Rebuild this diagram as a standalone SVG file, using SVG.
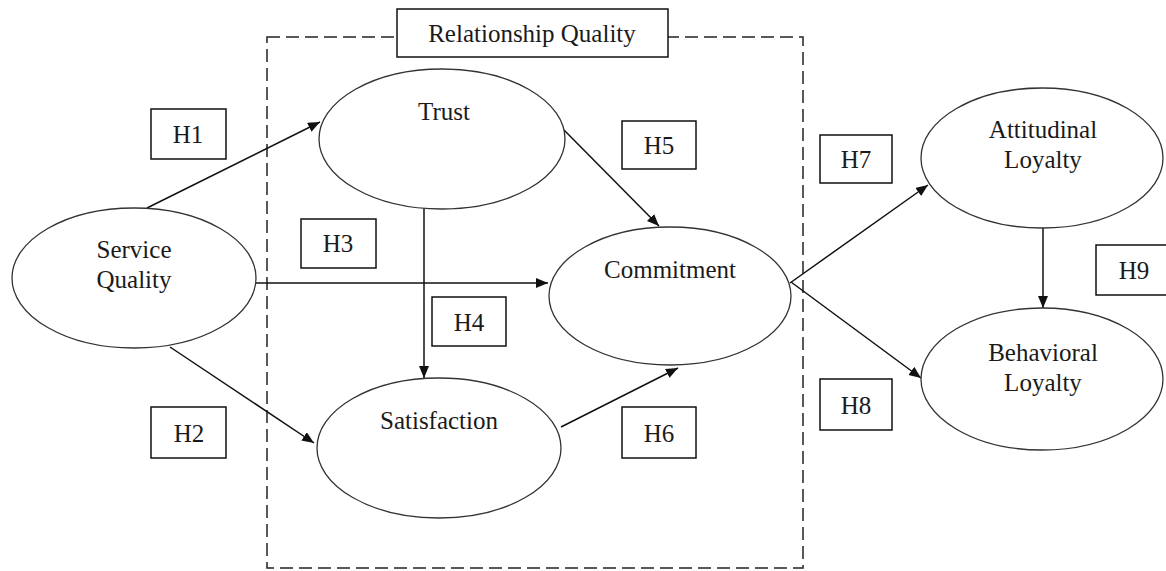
<svg xmlns="http://www.w3.org/2000/svg" width="1166" height="571" viewBox="0 0 1166 571">
<style>
.node{fill:#fff;stroke:#333;stroke-width:1.3}
.t{font-family:"Liberation Serif","Times New Roman",serif;font-size:25px;fill:#1a1a1a;text-anchor:middle}
.box{fill:#fff;stroke:#111;stroke-width:1.5}
.edge{stroke:#111;stroke-width:1.5;fill:none;marker-end:url(#ah)}
.dash{fill:none;stroke:#222;stroke-width:1.5;stroke-dasharray:13 6}
</style>
<defs>
<marker id="ah" markerUnits="userSpaceOnUse" markerWidth="13" markerHeight="11" refX="12" refY="5" orient="auto">
<path d="M0,0 L12,5 L0,10 z" fill="#111"/>
</marker>
</defs>
<rect width="1166" height="571" fill="#fff"/>
<g id="group-relationship-quality">
<rect class="dash" x="267" y="37" width="536" height="531"/>
<rect class="box" x="397" y="9" width="271" height="48"/>
<text class="t" x="532" y="42">Relationship Quality</text>
</g>
<g id="connectors">
<line class="edge" x1="147" y1="208" x2="320" y2="122"/>
<line class="edge" x1="170" y1="347" x2="314" y2="443"/>
<line class="edge" x1="256" y1="283" x2="548" y2="283"/>
<line class="edge" x1="424" y1="208" x2="424" y2="378"/>
<line class="edge" x1="564" y1="130" x2="659" y2="226"/>
<line class="edge" x1="561" y1="427" x2="678" y2="368"/>
<line class="edge" x1="790" y1="283" x2="928" y2="185"/>
<line class="edge" x1="791" y1="282" x2="921" y2="378"/>
<line class="edge" x1="1043" y1="227" x2="1043" y2="308"/>
</g>
<g id="service-quality"><ellipse class="node" cx="134" cy="278" rx="122" ry="70"/><text class="t" x="134" y="258">Service</text><text class="t" x="134" y="288">Quality</text></g>
<g id="trust"><ellipse class="node" cx="442" cy="139" rx="123" ry="70"/><text class="t" x="444" y="120">Trust</text></g>
<g id="satisfaction"><ellipse class="node" cx="439" cy="448" rx="122" ry="70"/><text class="t" x="439" y="429">Satisfaction</text></g>
<g id="commitment"><ellipse class="node" cx="670" cy="296" rx="121" ry="69"/><text class="t" x="670" y="278">Commitment</text></g>
<g id="attitudinal-loyalty"><ellipse class="node" cx="1042" cy="158" rx="121" ry="70"/><text class="t" x="1043" y="138">Attitudinal</text><text class="t" x="1043" y="168">Loyalty</text></g>
<g id="behavioral-loyalty"><ellipse class="node" cx="1042" cy="379" rx="121" ry="71"/><text class="t" x="1043" y="361">Behavioral</text><text class="t" x="1043" y="391">Loyalty</text></g>
<g id="h1"><rect class="box" x="151" y="109" width="75" height="50"/><text class="t" x="188" y="143">H1</text></g>
<g id="h2"><rect class="box" x="151" y="407" width="75" height="51"/><text class="t" x="189" y="442">H2</text></g>
<g id="h3"><rect class="box" x="301" y="219" width="75" height="49"/><text class="t" x="338" y="252">H3</text></g>
<g id="h4"><rect class="box" x="432" y="297" width="74" height="49"/><text class="t" x="469" y="331">H4</text></g>
<g id="h5"><rect class="box" x="622" y="121" width="74" height="48"/><text class="t" x="659" y="154">H5</text></g>
<g id="h6"><rect class="box" x="622" y="407" width="74" height="51"/><text class="t" x="659" y="442">H6</text></g>
<g id="h7"><rect class="box" x="820" y="135" width="72" height="48"/><text class="t" x="856" y="168">H7</text></g>
<g id="h8"><rect class="box" x="820" y="379" width="72" height="51"/><text class="t" x="856" y="414">H8</text></g>
<g id="h9"><rect class="box" x="1096" y="245" width="80" height="50"/><text class="t" x="1134" y="279">H9</text></g>
</svg>
